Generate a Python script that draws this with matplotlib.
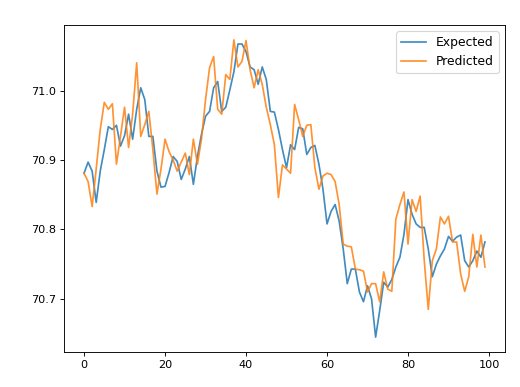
import matplotlib
matplotlib.use('Agg')
import matplotlib.pyplot as plt

# values (100 steps)
expected = [
    70.881, 70.897, 70.884, 70.839, 70.884, 70.915, 70.948, 70.944, 70.950, 70.920,
    70.935, 70.966, 70.930, 70.973, 71.004, 70.987, 70.934, 70.934, 70.884, 70.861,
    70.862, 70.882, 70.905, 70.898, 70.872, 70.887, 70.905, 70.865, 70.905, 70.937,
    70.963, 70.970, 71.004, 71.013, 70.970, 70.976, 71.001, 71.027, 71.067, 71.067,
    71.056, 71.034, 71.030, 71.009, 71.034, 71.016, 70.970, 70.969, 70.944, 70.915,
    70.889, 70.922, 70.915, 70.947, 70.945, 70.908, 70.918, 70.921, 70.894, 70.858,
    70.808, 70.826, 70.836, 70.812, 70.772, 70.722, 70.743, 70.743, 70.710, 70.696,
    70.719, 70.700, 70.645, 70.683, 70.724, 70.717, 70.728, 70.746, 70.760, 70.793,
    70.843, 70.822, 70.808, 70.803, 70.803, 70.772, 70.732, 70.750, 70.762, 70.772,
    70.790, 70.783, 70.789, 70.792, 70.755, 70.746, 70.755, 70.769, 70.760, 70.782,
]
predicted = [
    70.881, 70.869, 70.833, 70.887, 70.944, 70.983, 70.973, 70.981, 70.894, 70.934,
    70.976, 70.918, 70.966, 71.040, 70.934, 70.951, 70.970, 70.915, 70.851, 70.887,
    70.930, 70.912, 70.900, 70.884, 70.897, 70.910, 70.879, 70.930, 70.894, 70.930,
    70.987, 71.033, 71.049, 70.973, 70.966, 71.023, 71.016, 71.073, 71.034, 71.042,
    71.072, 71.030, 71.004, 71.030, 71.009, 70.976, 70.951, 70.922, 70.846, 70.893,
    70.887, 70.881, 70.980, 70.958, 70.934, 70.950, 70.951, 70.889, 70.858, 70.877,
    70.881, 70.879, 70.869, 70.836, 70.779, 70.776, 70.775, 70.743, 70.742, 70.740,
    70.710, 70.722, 70.722, 70.696, 70.739, 70.714, 70.711, 70.815, 70.836, 70.854,
    70.779, 70.843, 70.826, 70.848, 70.756, 70.685, 70.755, 70.772, 70.818, 70.808,
    70.819, 70.782, 70.782, 70.736, 70.711, 70.732, 70.793, 70.746, 70.792, 70.746,
]

fig = plt.figure(figsize=(6.4, 387 / 81.25), dpi=81.25)
ax = fig.add_axes([64 / 520, 1 - 352 / 387, 441 / 520, 327 / 387])

ax.plot(expected, label='Expected', alpha=0.85)
ax.plot(predicted, label='Predicted', alpha=0.85)
ax.set_yticks([70.7, 70.8, 70.9, 71.0])
ax.legend(loc='upper right', fontsize=11)

fig.savefig('out.png', dpi=81.25)
